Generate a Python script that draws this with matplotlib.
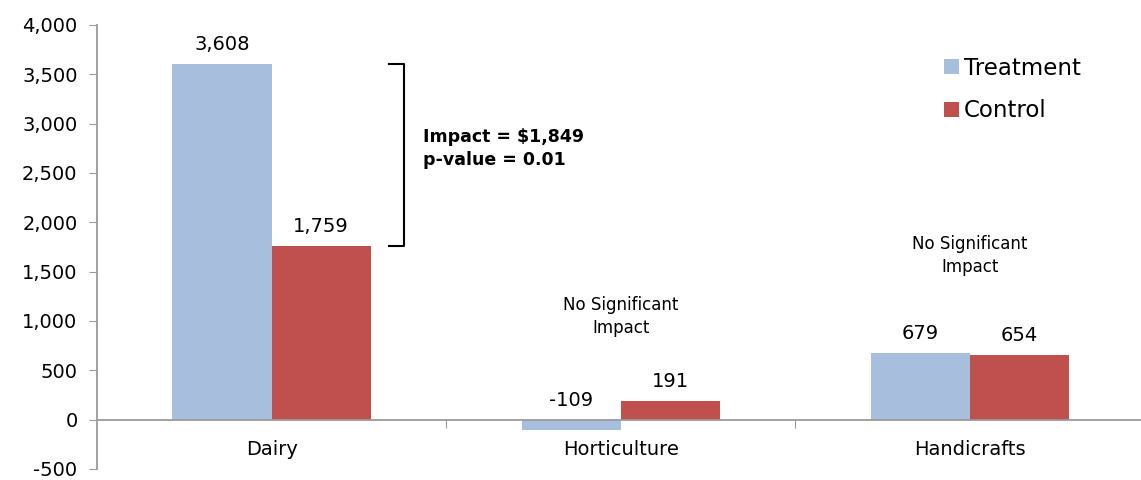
import numpy as np
import matplotlib
matplotlib.use("Agg")
import matplotlib.pyplot as plt

categories = ["Dairy", "Horticulture", "Handicrafts"]
treatment = [3608, -109, 679]
control = [1759, 191, 654]
yticks = [-500, 0, 500, 1000, 1500, 2000, 2500, 3000, 3500, 4000]

blue = "#a7bfdd"
red = "#c0504d"
gray = "#9a9a9a"

plt.rcParams['font.family'] = ['DejaVu Sans']

fig = plt.figure(figsize=(11.41, 4.8), dpi=100)
ax = fig.add_axes([97 / 1141, 11 / 480, 1 - 97 / 1141, 444 / 480])

x = np.arange(len(categories))
w = 0.284
ax.bar(x - w / 2, treatment, w, color=blue, label="Treatment")
ax.bar(x + w / 2, control, w, color=red, label="Control")

ax.set_xlim(-0.5, 2.49)
ax.set_ylim(-500, 4000)
ax.set_yticks(yticks)
ax.set_yticklabels([f"{v:,}" for v in yticks], fontsize=14)
ax.tick_params(axis="y", length=6, color=gray, pad=8)

# category labels without tick marks, boundaries with tick marks
ax.set_xticks([0.5, 1.5])
ax.set_xticklabels([])
ax.tick_params(axis="x", length=6, color=gray, direction="out")
for i, c in enumerate(categories):
    ax.text(i, -300, c, ha="center", va="center", fontsize=14)

for s in ["top", "right"]:
    ax.spines[s].set_visible(False)
ax.spines["bottom"].set_position(("data", 0))
ax.spines["bottom"].set_color(gray)
ax.spines["bottom"].set_linewidth(1.3)
ax.spines["left"].set_color(gray)
ax.spines["left"].set_linewidth(1.3)

# value labels
for i in range(len(categories)):
    t, c = treatment[i], control[i]
    ax.text(i - w / 2, max(t, 0) + 100, f"{t:,}", ha="center", va="bottom", fontsize=14)
    ax.text(i + w / 2, max(c, 0) + 100, f"{c:,}", ha="center", va="bottom", fontsize=14)

# bracket on Dairy
bx = 0.38
ax.plot([bx - 0.045, bx, bx, bx - 0.045], [treatment[0], treatment[0], control[0], control[0]],
        color="black", lw=1.5)
ax.text(bx + 0.055, 2865, "Impact = $1,849", fontsize=12.5, fontweight="bold", va="center")
ax.text(bx + 0.055, 2630, "p-value = 0.01", fontsize=12.5, fontweight="bold", va="center")

ax.text(1, 1050, "No Significant\nImpact", ha="center", va="center", fontsize=12, linespacing=1.35)
ax.text(2, 1660, "No Significant\nImpact", ha="center", va="center", fontsize=12, linespacing=1.35)

ax.legend(loc="upper right", bbox_to_anchor=(0.962, 0.975), frameon=False, fontsize=16.5,
          handlelength=0.65, handleheight=0.65, handletextpad=0.2, labelspacing=0.85)

fig.savefig("out.png", dpi=100)
